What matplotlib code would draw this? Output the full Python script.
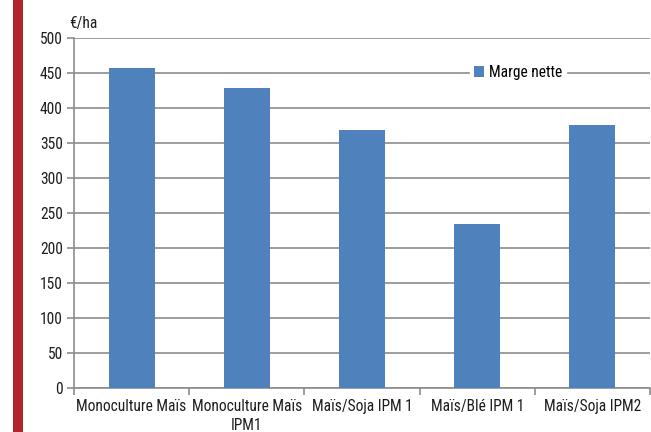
import matplotlib
matplotlib.use("Agg")
import matplotlib.pyplot as plt
from matplotlib.patches import Rectangle
from matplotlib import font_manager
import numpy as np

categories = ["Monoculture Maïs", "Monoculture Maïs\nIPM1", "Maïs/Soja IPM 1",
              "Maïs/Blé IPM 1", "Maïs/Soja IPM2"]
marge_nette = [457, 429, 368, 234, 376]
yticks = [0, 50, 100, 150, 200, 250, 300, 350, 400, 450, 500]

installed = {f.name for f in font_manager.fontManager.ttflist}
narrow = [n for n in ["Liberation Sans Narrow", "DejaVu Sans Condensed",
                      "Roboto Condensed", "Arial Narrow"] if n in installed]
if narrow:
    plt.rcParams['font.family'] = [narrow[0], 'DejaVu Sans']
    fs = 11.2
else:
    plt.rcParams['font.family'] = ['Liberation Sans', 'DejaVu Sans']
    fs = 10

fig = plt.figure(figsize=(6.51, 4.32), dpi=100)
fig.patch.set_facecolor("white")

# red band on the left edge
fig.patches.append(Rectangle((13 / 651, 0), 10 / 651, 1, transform=fig.transFigure,
                             facecolor="#b0262c", edgecolor="none", zorder=0))

ax = fig.add_axes([74 / 651, 1 - 388 / 432, 576 / 651, 350 / 432])
x = np.arange(len(categories))
ax.bar(x, marge_nette, width=0.4, color="#4f81bd", zorder=3, label="Marge nette")

ax.set_xlim(-0.5, len(categories) - 0.5)
ax.set_ylim(0, 500)
ax.set_yticks(yticks)
ax.set_yticklabels([str(v) for v in yticks], fontsize=fs, color="#1e1e1e")
ax.yaxis.grid(True, color="#8c8c8c", linewidth=1.2, zorder=0)

ax.set_xticks(x)
ax.set_xticklabels(categories, fontsize=fs, color="#1e1e1e", linespacing=1.3)
ax.set_xticks(np.arange(-0.5, len(categories) + 0.5, 1), minor=True)
ax.tick_params(axis="x", which="major", length=0, pad=8)
ax.tick_params(axis="x", which="minor", length=5, color="#8c8c8c", width=1.2)
ax.tick_params(axis="y", length=5, color="#8c8c8c", width=1.2, pad=3)

for s in ["top", "right"]:
    ax.spines[s].set_visible(False)
for s in ["left", "bottom"]:
    ax.spines[s].set_color("#8c8c8c")
    ax.spines[s].set_linewidth(1.2)

fig.text(69 / 651, 1 - 28 / 432, "€/ha", fontsize=fs, color="#1e1e1e",
         ha="left", va="baseline")

leg = ax.legend(loc="center", bbox_to_anchor=(518 / 651, 1 - 72 / 432),
                bbox_transform=fig.transFigure, frameon=True, fontsize=fs,
                handlelength=0.7, handleheight=0.7, handletextpad=0.3,
                borderpad=0.25, borderaxespad=0)
leg.get_frame().set_facecolor("white")
leg.get_frame().set_edgecolor("white")
leg.get_frame().set_alpha(1)
leg.set_zorder(5)

fig.savefig("out.png", dpi=100, facecolor="white")
